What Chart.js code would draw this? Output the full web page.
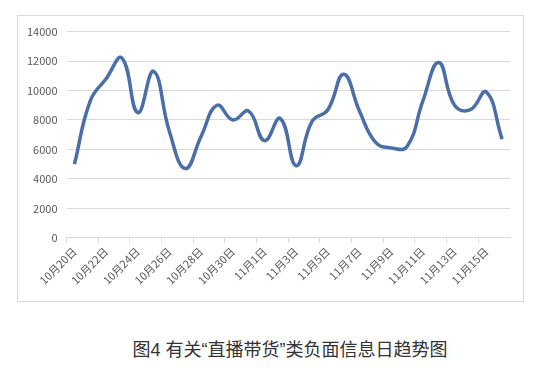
<!DOCTYPE html>
<html>
<head>
<meta charset="utf-8">
<script src="https://cdn.jsdelivr.net/npm/chart.js@4"></script>
<style>
  html,body{margin:0;padding:0;background:#fff;}
  body{width:544px;height:373px;position:relative;overflow:hidden;font-family:"Noto Sans CJK SC",sans-serif;}
  #box{position:absolute;left:17px;top:15px;width:505px;height:285px;border:1px solid #d9d9d9;}
  #title{position:absolute;left:0;width:580px;top:335px;text-align:center;font-size:18px;color:#333;font-family:"Liberation Sans","Noto Sans CJK SC",sans-serif;}
</style>
</head>
<body>
<div id="box"><canvas id="c" width="505" height="285"></canvas></div>
<div id="title">图4 有关“直播带货”类负面信息日趋势图</div>
<script>
// ----- data -----
const days = [
  "10月20日","10月21日","10月22日","10月23日","10月24日","10月25日","10月26日",
  "10月27日","10月28日","10月29日","10月30日","10月31日","11月1日","11月2日",
  "11月3日","11月4日","11月5日","11月6日","11月7日","11月8日","11月9日",
  "11月10日","11月11日","11月12日","11月13日","11月14日","11月15日","11月16日"
];
const counts = [
  5000, 9300, 10800, 12200, 8500, 11300, 7200,
  4700, 6900, 9000, 8000, 8600, 6600, 8100,
  4900, 7900, 8700, 11100, 8600, 6500, 6100,
  6200, 9300, 11900, 9000, 8700, 9900, 6700
];
const yTicks = [0, 2000, 4000, 6000, 8000, 10000, 12000, 14000];

const grey = "#595959";
const font = { family: "'Noto Sans CJK SC', sans-serif", size: 11 };

new Chart(document.getElementById("c"), {
  type: "line",
  data: {
    labels: days,
    datasets: [{
      data: counts,
      borderColor: "#4a6ea8",
      borderWidth: 3.5,
      pointRadius: 0,
      tension: 0.45,
      fill: false
    }]
  },
  options: {
    responsive: false,
    animation: false,
    layout: { padding: { left: 0, right: 13, top: 4, bottom: 12 } },
    plugins: { legend: { display: false }, tooltip: { enabled: false } },
    scales: {
      x: {
        offset: true,
        grid: {
          offset: true,
          drawOnChartArea: false,
          drawTicks: true,
          tickLength: 5,
          color: (ctx)=> ctx.index % 2 === 0 ? "#d9d9d9" : "transparent"
        },
        border: { color: "#d9d9d9" },
        ticks: {
          autoSkip: false,
          minRotation: 45,
          maxRotation: 45,
          color: grey,
          font,
          padding: 2,
          callback: (v, i)=> i % 2 === 0 ? days[i] : ""
        }
      },
      y: {
        min: 0,
        max: 14000,
        afterBuildTicks: (s)=>{ s.ticks = yTicks.map(v=>({value:v})); },
        grid: { color: "#d9d9d9", drawTicks: false },
        border: { display: false },
        ticks: { color: grey, font, padding: 9, callback: (v)=> String(v) }
      }
    }
  }
});
</script>
</body>
</html>
